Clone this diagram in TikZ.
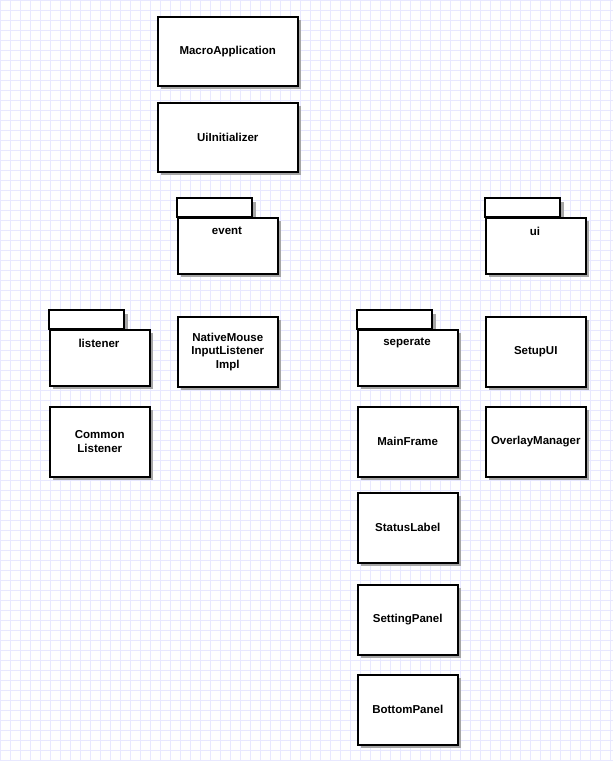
\documentclass[tikz,border=0pt]{standalone}
\usepackage{fontspec}
\setmainfont{Liberation Sans}
\begin{document}
\begin{tikzpicture}[x=1pt,y=-1pt,
 box/.style={draw,line width=1.5pt,fill=white,font=\bfseries\fontsize{11.5}{13.5}\selectfont,align=center},
 lbl/.style={font=\bfseries\fontsize{11.5}{13.5}\selectfont},
 shad/.style={fill=black!35}]
\useasboundingbox (0,0) rectangle (613,761);
\fill[white] (0,0) rectangle (613,761);
\foreach \i in {0,10,...,610} \draw[blue!9,line width=0.5pt] (\i,0) -- (\i,761);
\foreach \j in {0,10,...,760} \draw[blue!9,line width=0.5pt] (0,\j) -- (613,\j);
\newcommand{\cbox}[6]{% name x1 y1 x2 y2 text
 \fill[shad] (#2+4,#3+4) rectangle (#4+4,#5+4);
 \node[box,minimum width=#4-#2,minimum height=#5-#3,anchor=north west,inner sep=0] (#1) at (#2,#3) {#6};}
\newcommand{\fold}[4]{% name x y(tabtop) text
 \fill[shad] (#2+4,#3+4) rectangle (#2+79,#3+23);
 \fill[shad] (#2+4,#3+23) rectangle (#2+104,#3+79);
 \draw[line width=1.5pt,fill=white] (#2,#3) rectangle (#2+75,#3+19);
 \node[box,minimum width=100,minimum height=56,anchor=north west,inner sep=0] (#1) at (#2,#3+19) {};
 \node[lbl] at (#2+50,#3+33) {#4};}
\cbox{macro}{157}{16}{297}{85}{MacroApplication}
\cbox{uiinit}{157}{102}{297}{171}{UiInitializer}
\fold{event}{177}{198}{event}
\fold{ui}{485}{198}{ui}
\fold{listener}{49}{310}{listener}
\fold{seperate}{357}{310}{seperate}
\cbox{native}{177}{316}{277}{386}{NativeMouse\\InputListener\\Impl}
\cbox{setup}{485}{316}{585}{386}{SetupUI}
\cbox{common}{49}{406}{149}{476}{Common\\Listener}
\cbox{mainframe}{357}{406}{457}{476}{MainFrame}
\cbox{overlay}{485}{406}{585}{476}{OverlayManager}
\cbox{status}{357}{492}{457}{562}{StatusLabel}
\cbox{setting}{357}{584}{457}{654}{SettingPanel}
\cbox{bottom}{357}{674}{457}{744}{BottomPanel}
\end{tikzpicture}
\end{document}
